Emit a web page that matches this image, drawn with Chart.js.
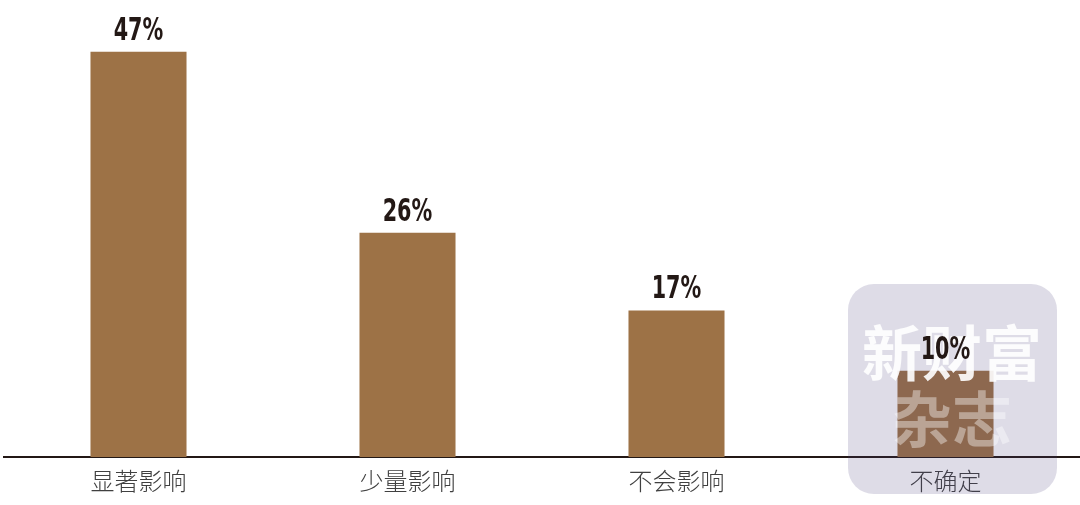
<!DOCTYPE html>
<html><head><meta charset="utf-8">
<script src="https://cdn.jsdelivr.net/npm/chart.js@4.4.1/dist/chart.umd.min.js"></script>
<style>html,body{margin:0;padding:0;background:#fff}#wrap{width:1080px;height:505px;position:relative}</style>
</head><body><div id="wrap"><canvas id="c" width="1080" height="505"></canvas></div>
<script>
const categories = ['显著影响', '少量影响', '不会影响', '不确定'];
const values = [47, 26, 17, 10];
const valueLabels = ['47%', '26%', '17%', '10%'];
const watermarkLines = ['新财富', '杂志'];

const watermarkPlugin = {
  id: 'watermark',
  afterDatasetsDraw(chart) {
    const ctx = chart.ctx;
    ctx.save();
    const x = 848, y = 284, w = 209, h = 210, r = 26;
    ctx.beginPath();
    ctx.roundRect(x, y, w, h, r);
    ctx.fillStyle = 'rgba(70,60,120,0.18)';
    ctx.fill();
    ctx.textAlign = 'center';
    ctx.textBaseline = 'middle';
    ctx.font = 'bold 60px "Noto Sans CJK SC", sans-serif';
    ctx.fillStyle = 'rgba(255,255,255,0.9)';
    ctx.fillText(watermarkLines[0], 952, 353);
    ctx.fillStyle = 'rgba(255,255,255,0.4)';
    ctx.fillText(watermarkLines[1], 952, 419);
    ctx.restore();
  }
};

const labelPlugin = {
  id: 'valueLabels',
  afterDatasetsDraw(chart) {
    const ctx = chart.ctx;
    const meta = chart.getDatasetMeta(0);
    meta.data.forEach((bar, i) => {
      ctx.save();
      ctx.translate(bar.x, bar.y - 12);
      ctx.scale(0.72, 1);
      ctx.font = 'bold 32px "Liberation Sans Narrow", "DejaVu Sans Condensed", sans-serif';
      ctx.fillStyle = '#231815';
      ctx.textAlign = 'center';
      ctx.textBaseline = 'alphabetic';
      ctx.fillText(valueLabels[i], 0, 0);
      ctx.restore();
    });
  }
};

new Chart(document.getElementById('c'), {
  type: 'bar',
  data: {
    labels: categories,
    datasets: [{
      data: values,
      backgroundColor: '#9d7246',
      borderWidth: 0,
      categoryPercentage: 1,
      barPercentage: 0.357
    }]
  },
  options: {
    responsive: false,
    animation: false,
    events: [],
    layout: { padding: { left: 4, right: 0, top: 0, bottom: 0 } },
    plugins: { legend: { display: false }, tooltip: { enabled: false } },
    scales: {
      x: {
        grid: { display: false, drawTicks: false },
        border: { display: true, color: '#231815', width: 2 },
        ticks: {
          color: '#404040',
          padding: 12,
          font: { family: '"Noto Sans CJK SC", sans-serif', size: 24, weight: 300, lineHeight: 1 }
        }
      },
      y: {
        display: false,
        min: 0,
        max: 53
      }
    }
  },
  plugins: [watermarkPlugin, labelPlugin]
});
</script>
</body></html>
